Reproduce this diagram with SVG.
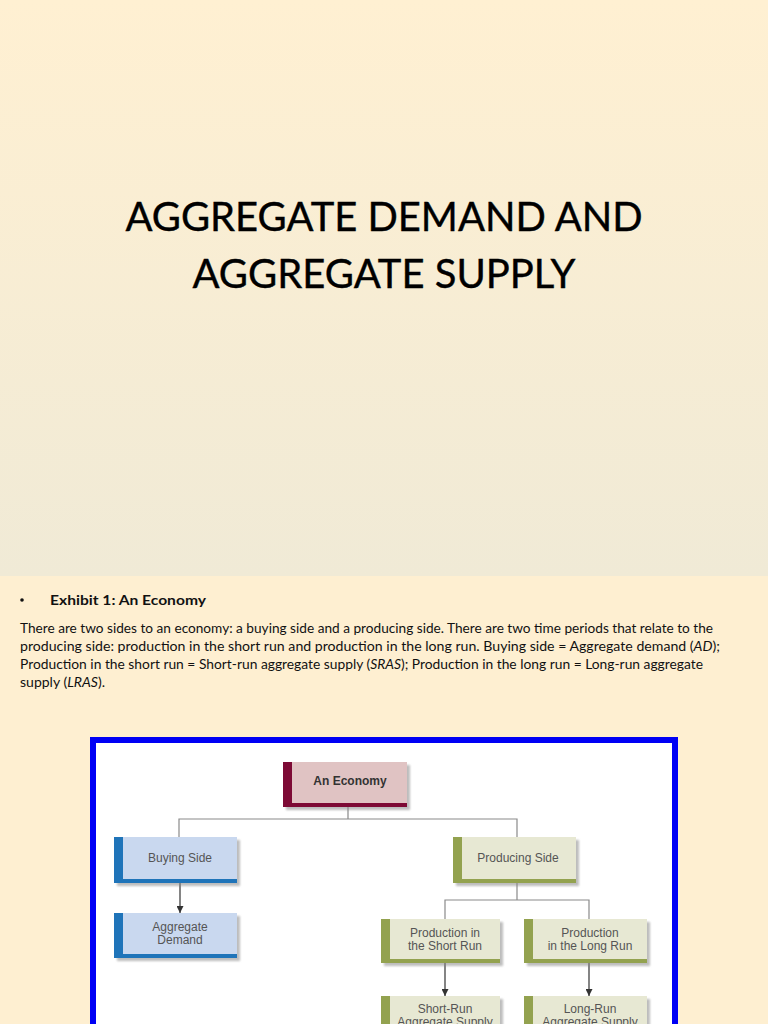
<svg xmlns="http://www.w3.org/2000/svg" width="768" height="1024" viewBox="0 0 768 1024">
<defs>
<linearGradient id="bg1" x1="0" y1="0" x2="0" y2="1">
<stop offset="0" stop-color="#FFF0D2"/>
<stop offset="1" stop-color="#F0EAD6"/>
</linearGradient>
<filter id="sh" x="-10%" y="-10%" width="130%" height="140%">
<feGaussianBlur stdDeviation="1.2"/>
</filter>
<marker id="arr" viewBox="0 0 10 10" refX="10" refY="5" markerWidth="7" markerHeight="7" markerUnits="userSpaceOnUse" orient="auto">
<path d="M0,0 L10,5 L0,10 z" fill="#333"/>
</marker>
<style>
.title{font-family:Lato,"Liberation Sans",sans-serif;font-size:41px;fill:#000;stroke:#000;stroke-width:0.4}
.body{font-family:Lato,"Liberation Sans",sans-serif;font-size:13px;fill:#111}
.bold{font-family:Lato,"Liberation Sans",sans-serif;font-size:14px;font-weight:bold;fill:#111}
.lbl{font-family:"Liberation Sans",Arial,sans-serif;font-size:12px;fill:#555;text-anchor:middle}
.lblb{font-family:"Liberation Sans",Arial,sans-serif;font-size:12px;font-weight:bold;fill:#333;text-anchor:middle}
.shadow{fill:#888;opacity:0.55;filter:url(#sh)}
.conn{stroke:#8a8a8a;stroke-width:1.2;fill:none}
.arrow{stroke:#333;stroke-width:1.2;fill:none}
.red{fill:#E0C3C3}.redb{fill:#7D0A35}
.blue{fill:#C9D8EF}.blueb{fill:#1F74B9}
.olive{fill:#E7E8D3}.oliveb{fill:#93A24F}
</style>
</defs>
<rect x="0" y="0" width="768" height="576" fill="url(#bg1)"/>
<rect x="0" y="576" width="768" height="448" fill="#FEEFD1"/>
<g id="title">
<text class="title" x="384" y="231" text-anchor="middle" textLength="517" lengthAdjust="spacingAndGlyphs">AGGREGATE DEMAND AND</text>
<text class="title" x="384" y="288" text-anchor="middle" textLength="383" lengthAdjust="spacingAndGlyphs">AGGREGATE SUPPLY</text>
</g>
<g id="caption">
<circle cx="22" cy="600" r="1.8" fill="#111"/>
<text class="bold" x="50" y="605" textLength="156" lengthAdjust="spacingAndGlyphs">Exhibit 1: An Economy</text>
<text class="body" x="20" y="633" textLength="693" lengthAdjust="spacingAndGlyphs">There are two sides to an economy: a buying side and a producing side. There are two time periods that relate to the</text>
<text class="body" x="20" y="651" textLength="700" lengthAdjust="spacingAndGlyphs">producing side: production in the short run and production in the long run. Buying side = Aggregate demand (<tspan font-style="italic">AD</tspan>);</text>
<text class="body" x="20" y="669" textLength="683" lengthAdjust="spacingAndGlyphs">Production in the short run = Short-run aggregate supply (<tspan font-style="italic">SRAS</tspan>); Production in the long run = Long-run aggregate</text>
<text class="body" x="20" y="687" textLength="85" lengthAdjust="spacingAndGlyphs">supply (<tspan font-style="italic">LRAS</tspan>).</text>
</g>
<rect x="93" y="740" width="582" height="300" fill="#FFFFFF" stroke="#0000F5" stroke-width="6"/>
<g id="connectors">
<path class="conn" d="M348,807 V819 M179,837 V819 H517 V837"/>
<path class="conn" d="M517,883 V900 M445,919 V900 H589 V919"/>
<line class="arrow" x1="180" y1="883" x2="180" y2="913" marker-end="url(#arr)"/>
<line class="arrow" x1="445" y1="963" x2="445" y2="996" marker-end="url(#arr)"/>
<line class="arrow" x1="589" y1="963" x2="589" y2="996" marker-end="url(#arr)"/>
</g>
<g id="an-economy">
<rect class="shadow" x="286" y="765" width="124" height="45"/>
<rect class="red" x="283" y="762" width="124" height="45"/>
<rect class="redb" x="283" y="762" width="9" height="45"/>
<rect class="redb" x="283" y="803" width="124" height="4"/>
<text class="lblb" x="350" y="785">An Economy</text>
</g>
<g id="buying-side">
<rect class="shadow" x="117" y="840" width="123" height="46"/>
<rect class="blue" x="114" y="837" width="123" height="46"/>
<rect class="blueb" x="114" y="837" width="9" height="46"/>
<rect class="blueb" x="114" y="879" width="123" height="4"/>
<text class="lbl" x="180" y="862">Buying Side</text>
</g>
<g id="aggregate-demand">
<rect class="shadow" x="117" y="916" width="123" height="45"/>
<rect class="blue" x="114" y="913" width="123" height="45"/>
<rect class="blueb" x="114" y="913" width="9" height="45"/>
<rect class="blueb" x="114" y="954" width="123" height="4"/>
<text class="lbl" x="180" y="931">Aggregate</text>
<text class="lbl" x="180" y="944">Demand</text>
</g>
<g id="producing-side">
<rect class="shadow" x="456" y="840" width="123" height="46"/>
<rect class="olive" x="453" y="837" width="123" height="46"/>
<rect class="oliveb" x="453" y="837" width="9" height="46"/>
<rect class="oliveb" x="453" y="879" width="123" height="4"/>
<text class="lbl" x="518" y="862">Producing Side</text>
</g>
<g id="production-short-run">
<rect class="shadow" x="384" y="922" width="119" height="44"/>
<rect class="olive" x="381" y="919" width="119" height="44"/>
<rect class="oliveb" x="381" y="919" width="9" height="44"/>
<rect class="oliveb" x="381" y="959" width="119" height="4"/>
<text class="lbl" x="445" y="937">Production in</text>
<text class="lbl" x="445" y="950">the Short Run</text>
</g>
<g id="production-long-run">
<rect class="shadow" x="527" y="922" width="123" height="44"/>
<rect class="olive" x="524" y="919" width="123" height="44"/>
<rect class="oliveb" x="524" y="919" width="9" height="44"/>
<rect class="oliveb" x="524" y="959" width="123" height="4"/>
<text class="lbl" x="590" y="937">Production</text>
<text class="lbl" x="590" y="950">in the Long Run</text>
</g>
<g id="short-run-as">
<rect class="shadow" x="384" y="999" width="119" height="44"/>
<rect class="olive" x="381" y="996" width="119" height="44"/>
<rect class="oliveb" x="381" y="996" width="9" height="44"/>
<text class="lbl" x="445" y="1013">Short-Run</text>
<text class="lbl" x="445" y="1026">Aggregate Supply</text>
</g>
<g id="long-run-as">
<rect class="shadow" x="527" y="999" width="123" height="44"/>
<rect class="olive" x="524" y="996" width="123" height="44"/>
<rect class="oliveb" x="524" y="996" width="9" height="44"/>
<text class="lbl" x="590" y="1013">Long-Run</text>
<text class="lbl" x="590" y="1026">Aggregate Supply</text>
</g>
</svg>
